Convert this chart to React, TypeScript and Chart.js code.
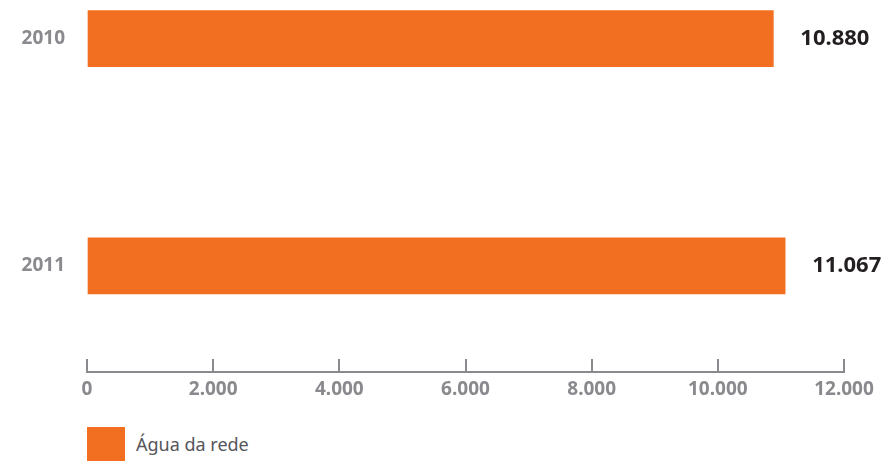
import React, { useEffect, useRef } from 'react';
import { Chart, registerables } from 'chart.js';

Chart.register(...registerables);

const years: string[] = ['2010', '2011'];
const waterValues: number[] = [10880, 11067];
const xTickValues: number[] = [0, 2000, 4000, 6000, 8000, 10000, 12000];
const seriesLabel = 'Água da rede';

const ORANGE = '#F26F22';
const GRAY = '#8A8A8E';
const DARK = '#231F20';
const FONT = '"Noto Sans", "Liberation Sans", Arial, sans-serif';

const CANVAS_W = 896;
const CANVAS_H = 420;
const Y_MIN = -0.17;
const Y_MAX = 1.41;

const fmt = (v: number): string =>
  String(Math.round(v)).replace(/\B(?=(\d{3})+(?!\d))/g, '.');

const axisLinePlugin = {
  id: 'axisLine',
  afterDraw(chart: any) {
    const { ctx, chartArea } = chart;
    const xs = chart.scales.x;
    const y = chartArea.bottom + 13;
    ctx.save();
    ctx.strokeStyle = GRAY;
    ctx.lineWidth = 2;
    ctx.beginPath();
    ctx.moveTo(xs.getPixelForValue(xTickValues[0]) - 1, y);
    ctx.lineTo(xs.getPixelForValue(xTickValues[xTickValues.length - 1]) + 1, y);
    ctx.stroke();
    ctx.restore();
  },
};

const valueLabelPlugin = {
  id: 'valueLabels',
  afterDatasetsDraw(chart: any) {
    const { ctx } = chart;
    const meta = chart.getDatasetMeta(0);
    ctx.save();
    ctx.font = `bold 22px ${FONT}`;
    ctx.fillStyle = DARK;
    ctx.textAlign = 'left';
    ctx.textBaseline = 'middle';
    meta.data.forEach((bar: any, i: number) => {
      ctx.fillText(fmt(waterValues[i]), bar.x + 27, bar.y);
    });
    ctx.restore();
  },
};

export default function App() {
  const canvasRef = useRef<HTMLCanvasElement | null>(null);

  useEffect(() => {
    if (!canvasRef.current) return;
    const chart = new Chart(canvasRef.current, {
      type: 'bar',
      data: {
        datasets: [
          {
            label: seriesLabel,
            data: years.map((_, i) => ({ x: waterValues[i], y: i })),
            backgroundColor: ORANGE,
            borderWidth: 0,
            barThickness: 56,
          } as any,
        ],
      },
      options: {
        indexAxis: 'y',
        responsive: false,
        animation: false,
        layout: { padding: { left: 0, right: 52, top: 0, bottom: 0 } },
        plugins: {
          legend: { display: false },
          tooltip: { enabled: false },
        },
        scales: {
          x: {
            type: 'linear',
            position: 'bottom',
            min: xTickValues[0],
            max: xTickValues[xTickValues.length - 1],
            offset: false,
            bounds: 'data',
            afterBuildTicks: (s: any) => {
              s.ticks = xTickValues.map((v) => ({ value: v }));
              s.min = xTickValues[0];
              s.max = xTickValues[xTickValues.length - 1];
            },
            afterFit: (s: any) => {
              s.paddingLeft = 0;
              s.paddingRight = 0;
              s.height = CANVAS_H - 359;
            },
            ticks: {
              callback: (v: any) => fmt(Number(v)),
              color: GRAY,
              font: { family: FONT, size: 19, weight: 'bold' },
              padding: 6,
              maxRotation: 0,
              autoSkip: false,
            },
            grid: {
              drawOnChartArea: false,
              drawTicks: true,
              tickLength: 13,
              color: GRAY,
              lineWidth: 2,
            },
            border: { display: false },
          },
          y: {
            type: 'linear',
            reverse: true,
            offset: false,
            bounds: 'data',
            min: Y_MIN,
            max: Y_MAX,
            afterBuildTicks: (s: any) => {
              s.ticks = years.map((_, i) => ({ value: i }));
              s.min = Y_MIN;
              s.max = Y_MAX;
            },
            afterFit: (s: any) => {
              s.width = 87;
              s.paddingTop = 0;
              s.paddingBottom = 0;
            },
            ticks: {
              callback: (v: any) => years[Number(v)] ?? '',
              color: GRAY,
              font: { family: FONT, size: 19, weight: 'bold' },
              padding: 22,
            },
            grid: { display: false, drawTicks: false, offset: false },
            border: { display: false },
          },
        },
      } as any,
      plugins: [axisLinePlugin, valueLabelPlugin],
    });
    return () => chart.destroy();
  }, []);

  return (
    <div style={{ position: 'absolute', left: 0, top: 0, width: CANVAS_W, height: 461, background: '#fff', overflow: 'hidden' }}>
      <canvas ref={canvasRef} width={CANVAS_W} height={CANVAS_H} style={{ display: 'block' }} />
      <div style={{ position: 'absolute', left: 87, top: 427, display: 'flex', alignItems: 'center', height: 34 }}>
        <span style={{ display: 'inline-block', width: 38, height: 34, background: ORANGE }} />
        <span style={{ marginLeft: 11, fontFamily: FONT, fontSize: 18, color: '#55555A', lineHeight: '34px' }}>{seriesLabel}</span>
      </div>
    </div>
  );
}
